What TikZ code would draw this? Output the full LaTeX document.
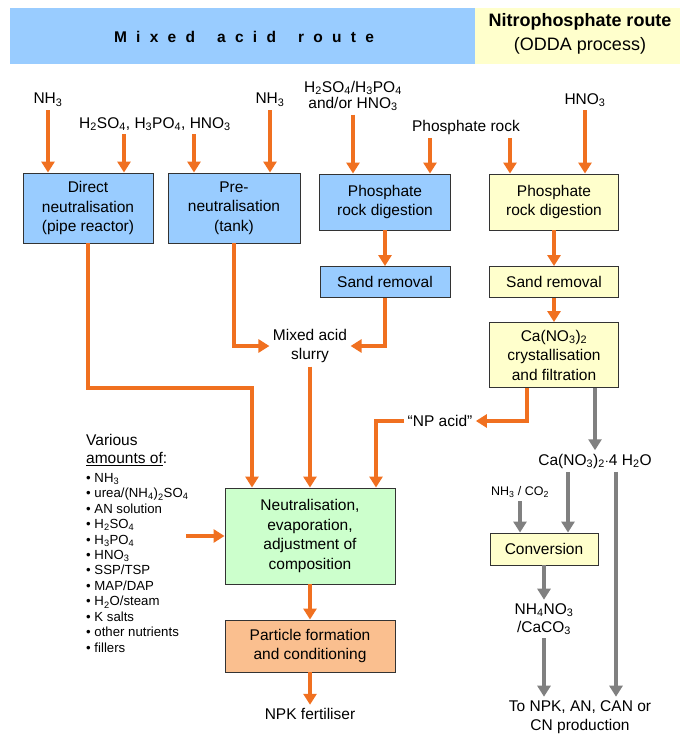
\documentclass[tikz,border=0pt]{standalone}
\usepackage{fontspec}
\setmainfont{Liberation Sans}
\usepackage{tikz}
\usetikzlibrary{positioning, arrows.meta}

\definecolor{flowor}{RGB}{240,112,32}
\definecolor{flowgr}{RGB}{128,128,128}
\definecolor{mixblue}{RGB}{153,204,255}
\definecolor{odyellow}{RGB}{255,255,204}
\definecolor{mixgreen}{RGB}{204,255,204}
\definecolor{partor}{RGB}{250,191,143}

\newcommand{\ix}[1]{\textsubscript{#1}}

\begin{document}
\begin{tikzpicture}[
  x=1pt, y=-1pt,
  every node/.style={font=\fontsize{15.5}{19.5}\selectfont, align=center},
  box/.style={draw=black!80, line width=0.9pt, inner sep=2pt},
  bluebox/.style={box, fill=mixblue},
  yelbox/.style={box, fill=odyellow},
  flow/.style={draw=flowor, line width=4pt, -{Triangle[width=13pt,length=11pt]}},
  grayflow/.style={draw=flowgr, line width=4pt, -{Triangle[width=13pt,length=11pt]}},
  small/.style={font=\fontsize{13.2}{15.45}\selectfont, align=left}
]
  \useasboundingbox (0,0) rectangle (680,735);

  % header bands
  \fill[mixblue] (10,8) rectangle (475,64);
  \fill[odyellow] (475,8) rectangle (680,64);
  \node[font=\fontsize{15.5}{18}\selectfont\bfseries\addfontfeatures{LetterSpace=60}] (mixhead) at (244,37)
    {Mixed\hspace{22pt}acid\hspace{22pt}route};
  \node[font=\fontsize{18}{24}\selectfont] (odhead) at (580,34) {\textbf{Nitrophosphate route}\\(ODDA process)};

  % raw materials
  \node (nh3a) at (48,100) {NH\ix{3}};
  \node (acids) at (155,124) {H\ix{2}SO\ix{4}, H\ix{3}PO\ix{4}, HNO\ix{3}};
  \node (nh3b) at (270,100) {NH\ix{3}};
  \node[font=\fontsize{15.5}{16}\selectfont] (digacid) at (353,96) {H\ix{2}SO\ix{4}/H\ix{3}PO\ix{4}\\and/or HNO\ix{3}};
  \node (rock) at (466,127) {Phosphate rock};
  \node (hno3) at (585,100) {HNO\ix{3}};

  % mixed acid route
  \node[bluebox, minimum width=130, minimum height=70] (direct) at (88,208) {Direct\\neutralisation\\(pipe reactor)};
  \node[bluebox, minimum width=132, minimum height=70] (pre) at (234,208) {Pre-\\neutralisation\\(tank)};
  \node[bluebox, minimum width=131, minimum height=56] (digb) at (385,202) {Phosphate\\rock digestion};
  \node[bluebox, minimum width=130, minimum height=31] (sandb) at (385,282) {Sand removal};
  \node (slurry) at (310,346) {Mixed acid\\slurry};

  % nitrophosphate route
  \node[yelbox, minimum width=129, minimum height=56] (digy) at (554,202) {Phosphate\\rock digestion};
  \node[yelbox, minimum width=129, minimum height=31] (sandy) at (554,282) {Sand removal};
  \node[yelbox, minimum width=129, minimum height=65] (cryst) at (554,355) {Ca(NO\ix{3})\ix{2}\\crystallisation\\and filtration};
  \node (npacid) at (440,421) {``NP acid''};
  \node (cano3) at (595,461) {Ca(NO\ix{3})\ix{2}$\cdot$4 H\ix{2}O};
  \node[font=\fontsize{12.5}{15}\selectfont] (nhco) at (520,492) {NH\ix{3} / CO\ix{2}};
  \node[yelbox, minimum width=108, minimum height=32] (conv) at (544,549) {Conversion};
  \node[font=\fontsize{15.5}{18}\selectfont] (nhno) at (544,619) {NH\ix{4}NO\ix{3}\\/CaCO\ix{3}};
  \node (topro) at (580,717) {To NPK, AN, CAN or\\CN production};

  % common part
  \node[box, fill=mixgreen, minimum width=170, minimum height=96] (neutral) at (310,536) {Neutralisation,\\evaporation,\\adjustment of\\composition};
  \node[box, fill=partor, minimum width=170, minimum height=52] (partic) at (310,646) {Particle formation\\and conditioning};
  \node (npk) at (310,714) {NPK fertiliser};

  \node[anchor=north west, align=left, inner sep=0pt, font=\fontsize{15.5}{18}\selectfont] (various) at (86,434) {Various\\\underline{amounts of}:};
  \node[small, anchor=north west, inner sep=0pt] (items) at (86,473)
    {\textbullet\ NH\ix{3}\\
     \textbullet\ urea/(NH\ix{4})\ix{2}SO\ix{4}\\
     \textbullet\ AN solution\\
     \textbullet\ H\ix{2}SO\ix{4}\\
     \textbullet\ H\ix{3}PO\ix{4}\\
     \textbullet\ HNO\ix{3}\\
     \textbullet\ SSP/TSP\\
     \textbullet\ MAP/DAP\\
     \textbullet\ H\ix{2}O/steam\\
     \textbullet\ K salts\\
     \textbullet\ other nutrients\\
     \textbullet\ fillers};
  \coordinate (addin) at (186,536);

  % feeds
  \draw[flow] (nh3a) -- (nh3a |- direct.north);
  \draw[flow] (acids.south -| 124,0) -- (direct.north -| 124,0);
  \draw[flow] (acids.south -| 194,0) -- (pre.north -| 194,0);
  \draw[flow] (nh3b) -- (nh3b |- pre.north);
  \draw[flow] (digacid) -- (digacid |- digb.north);
  \draw[flow] (rock.south -| 430,0) -- (digb.north -| 430,0);
  \draw[flow] (rock.south -| 510,0) -- (digy.north -| 510,0);
  \draw[flow] (hno3) -- (hno3 |- digy.north);

  % mixed acid route
  \draw[flow] (digb) -- (sandb);
  \draw[flow] (pre.south) |- (slurry.west);
  \draw[flow] (sandb.south) |- (slurry.east);
  \draw[flow] (slurry) -- (neutral.north -| slurry);
  \draw[flow] (direct.south) -- ++(0,145) -| ([xshift=-58]neutral.north);

  % nitrophosphate route
  \draw[flow] (digy) -- (sandy);
  \draw[flow] (sandy) -- (cryst);
  \draw[flow] ([xshift=-27]cryst.south) |- (npacid.east);
  \draw[flow] (npacid.west) -| ([xshift=66]neutral.north);
  \draw[grayflow] (cryst.south -| cano3) -- (cano3);
  \draw[grayflow] (cano3.south -| 568,0) -- (conv.north -| 568,0);
  \draw[grayflow] (nhco) -- (nhco |- conv.north);
  \draw[grayflow] (conv) -- (nhno);
  \draw[grayflow] (nhno) -- (nhno |- topro.north);
  \draw[grayflow] (cano3.south -| 616,0) -- (topro.north -| 616,0);

  % finishing
  \draw[flow] (addin) -- (neutral.west);
  \draw[flow] (neutral) -- (partic);
  \draw[flow] (partic) -- (npk);
\end{tikzpicture}
\end{document}
